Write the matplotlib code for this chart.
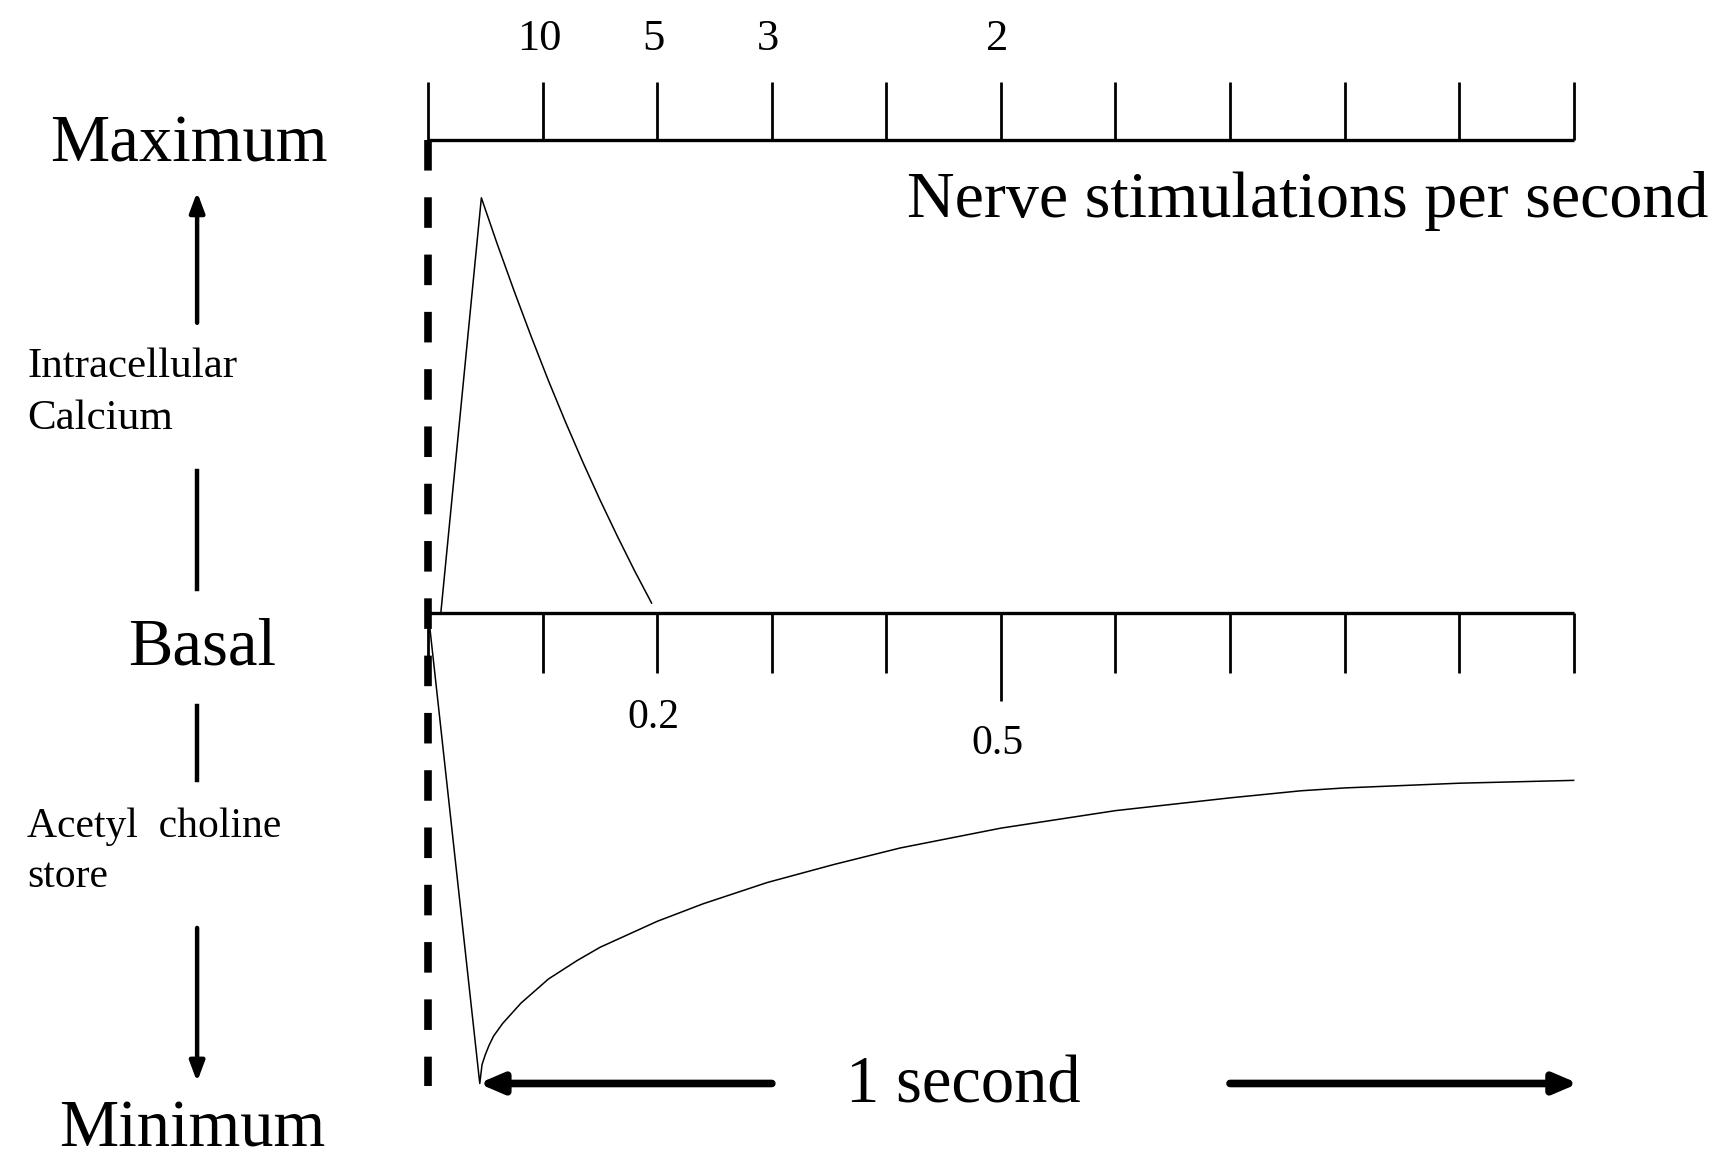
import matplotlib.pyplot as plt

# time along the trace in seconds (0 = nerve stimulus)
tick_times = [0.0, 0.1, 0.2, 0.3, 0.4, 0.5, 0.6, 0.7, 0.8, 0.9, 1.0]

# stimulation rates written above the top scale
stim_rates = ["10", "5", "3", "2"]
stim_times = [0.1, 0.2, 0.3, 0.5]

# time labels below the basal scale
time_labels = ["0.2", "0.5"]
time_label_pos = [0.2, 0.5]

# intracellular calcium (0 = basal, 1 = maximum)
ca_time = [0.011, 0.0464, 0.06, 0.075, 0.09, 0.105, 0.12, 0.135, 0.15,
           0.165, 0.18, 0.195]
ca_level = [0.0, 0.878, 0.782, 0.681, 0.584, 0.491, 0.403, 0.319, 0.239,
            0.163, 0.090, 0.021]

# acetyl choline store (0 = basal, -1 = minimum)
ach_time = [0.0, 0.045, 0.047, 0.0497, 0.053, 0.057, 0.065, 0.081, 0.105,
            0.13, 0.15, 0.2, 0.24, 0.296, 0.354, 0.412, 0.5, 0.6, 0.7,
            0.762, 0.8, 0.9, 1.0]
ach_level = [0.0, -0.995, -0.955, -0.935, -0.915, -0.895, -0.868, -0.825,
             -0.774, -0.735, -0.707, -0.652, -0.615, -0.570, -0.532, -0.497,
             -0.455, -0.418, -0.391, -0.376, -0.370, -0.360, -0.354]

plt.rcParams['font.family'] = ['Liberation Serif', 'DejaVu Serif']

fig = plt.figure(figsize=(17.17, 11.57), dpi=100)
ax = fig.add_axes([0.2494, 0.0615, 0.6671, 0.8174])
ax.set_xlim(0, 1)
ax.set_ylim(-1, 1)
ax.axis('off')

k = dict(color='black', clip_on=False, solid_capstyle='butt')

# top scale (maximum)
ax.plot([tick_times[0], tick_times[-1]], [1, 1], lw=2.4, **k)
for t in tick_times:
    ax.plot([t, t], [1, 1.123], lw=2.0, **k)
for t, lab in zip(stim_times, stim_rates):
    ax.text(t - 0.003, 1.191, lab, ha='center', va='baseline', fontsize=32)
ax.text(0.418, 0.837, "Nerve stimulations per second", ha='left',
        va='baseline', fontsize=47.5)

# basal scale
ax.plot([tick_times[0], tick_times[-1]], [0, 0], lw=2.4, **k)
for t in tick_times:
    low = -0.186 if t == 0.5 else -0.126
    ax.plot([t, t], [0, low], lw=2.0, **k)
for t, lab in zip(time_label_pos, time_labels):
    yb = -0.298 if lab == "0.5" else -0.244
    ax.text(t - 0.003, yb, lab, ha='center', va='baseline', fontsize=30)

# stimulus marker
ax.plot([0, 0], [1, -1.0], lw=5.5, color='black', clip_on=False,
        linestyle=(0, (4, 3.5)), dash_capstyle='butt')

# traces
ax.plot(ca_time, ca_level, lw=1.1, color='black', clip_on=False)
ax.plot(ach_time, ach_level, lw=1.1, color='black', clip_on=False)

# 1 second span
head = '-|>,head_length=1.4,head_width=0.6'
ax.annotate('', xy=(0.044, -0.995), xytext=(0.300, -0.995),
            arrowprops=dict(arrowstyle=head, lw=5.5, color='black',
                            shrinkA=0, shrinkB=0), annotation_clip=False)
ax.annotate('', xy=(1.004, -0.995), xytext=(0.700, -0.995),
            arrowprops=dict(arrowstyle=head, lw=5.5, color='black',
                            shrinkA=0, shrinkB=0), annotation_clip=False)
ax.text(0.4675, -1.035, "1 second", ha='center', va='baseline', fontsize=48)

# left-hand scale description
fig.text(0.110, 0.860, "Maximum", ha='center', va='baseline', fontsize=48)
fig.text(0.118, 0.4257, "Basal", ha='center', va='baseline', fontsize=48)
fig.text(0.112, 0.0095, "Minimum", ha='center', va='baseline', fontsize=48)
fig.text(0.016, 0.674, "Intracellular", ha='left', va='baseline', fontsize=31)
fig.text(0.016, 0.629, "Calcium", ha='left', va='baseline', fontsize=31)
fig.text(0.016, 0.2763, "Acetyl  choline", ha='left', va='baseline', fontsize=30)
fig.text(0.016, 0.2337, "store", ha='left', va='baseline', fontsize=30)

small = '-|>,head_length=1.2,head_width=0.45'
xa = 0.1148
fig.add_artist(plt.Line2D([xa, xa], [0.593, 0.491], lw=3.2, color='black'))
fig.add_artist(plt.Line2D([xa, xa], [0.390, 0.326], lw=3.2, color='black'))
ax.annotate('', xy=(xa, 0.834), xytext=(xa, 0.721), xycoords='figure fraction',
            textcoords='figure fraction',
            arrowprops=dict(arrowstyle=small, lw=3.2, color='black',
                            shrinkA=0, shrinkB=0))
ax.annotate('', xy=(xa, 0.065), xytext=(xa, 0.198), xycoords='figure fraction',
            textcoords='figure fraction',
            arrowprops=dict(arrowstyle=small, lw=3.2, color='black',
                            shrinkA=0, shrinkB=0))

fig.savefig("out.png", dpi=100)
